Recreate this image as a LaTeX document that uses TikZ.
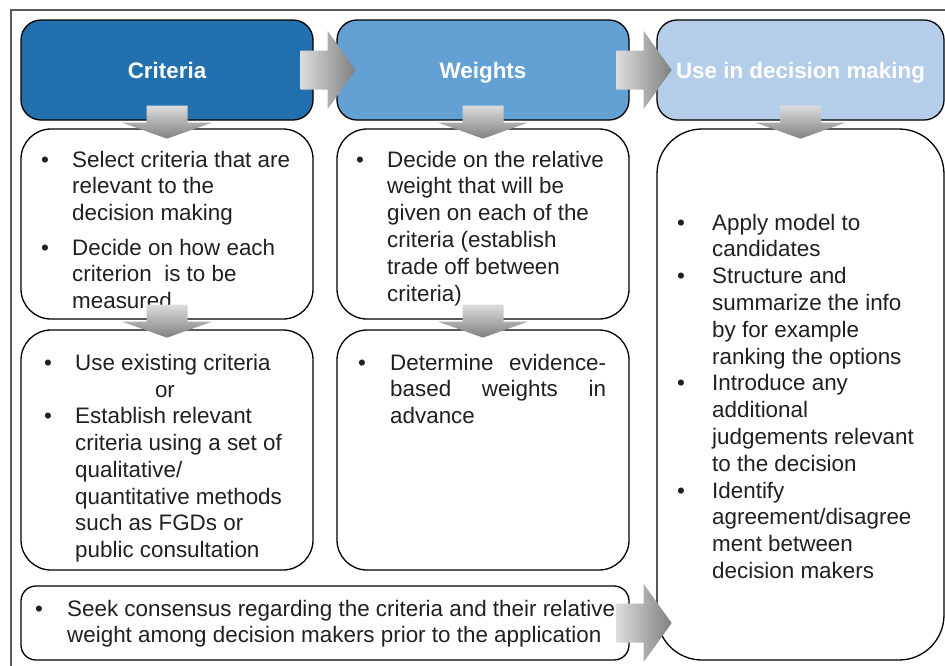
\documentclass[tikz,border=0pt]{standalone}
\usepackage{fontspec}
\setmainfont{Liberation Sans}
\definecolor{cblue}{HTML}{2370AE}
\definecolor{wblue}{HTML}{63A1D5}
\definecolor{ublue}{HTML}{B4CEE9}
\definecolor{framegray}{HTML}{5A5A5A}
\definecolor{arrlight}{HTML}{DCDCDC}
\definecolor{arrdark}{HTML}{808080}
\definecolor{txtcol}{HTML}{231F20}
\newcommand{\itm}[3]{\makebox[#1][l]{\textbullet}\parbox[t]{#2}{#3}}
\newcommand{\blockright}[1]{\begin{scope}[shift={(#1)}]
  \shade[left color=arrlight, right color=arrdark]
    (-13,-19.5) -- (14,-19.5) -- (14,-39) -- (42,0) -- (14,39) -- (14,19.5) -- (-13,19.5) -- cycle;
  \end{scope}}
\newcommand{\blockdown}[1]{\begin{scope}[shift={(#1)}]
  \shade[top color=arrlight, bottom color=arrdark]
    (-20.5,-15) -- (20.5,-15) -- (20.5,2) -- (45,2) -- (0,18) -- (-45,2) -- (-20.5,2) -- cycle;
  \end{scope}}
\begin{document}
\begin{tikzpicture}[x=1pt,y=-1pt,
  hbox/.style={draw=black, line width=1.3pt, rounded corners=20pt, inner sep=0pt,
    text=white, font=\fontsize{22.4}{26.8}\selectfont\bfseries, text height=16pt, text depth=0pt},
  cbox/.style={draw=black, line width=1.3pt, rounded corners=30pt, fill=white, inner sep=0pt},
  txt/.style={anchor=base west, inner sep=0pt, font=\fontsize{22.4}{26.8}\selectfont, text=txtcol},
]
\useasboundingbox (0,0) rectangle (945,665);
\clip (0,0) rectangle (945,665);
\fill[white] (0,0) rectangle (945,665);
\draw[framegray, line width=1.2pt] (11,10) rectangle (990,700);

% header boxes
\node[hbox, fill=cblue, minimum width=292pt, minimum height=100pt] (c1) at (167,70) {Criteria};
\node[hbox, fill=wblue, minimum width=292pt, minimum height=100pt] (w1) at (483,70) {Weights};
\node[hbox, fill=ublue, minimum width=287pt, minimum height=100pt] (u1) at (800.5,70) {Use in decision making};

% content boxes
\node[cbox, minimum width=292pt, minimum height=190pt] (c2) at (167,224) {};
\node[cbox, minimum width=292pt, minimum height=240pt] (c3) at (167,450) {};
\node[cbox, minimum width=292pt, minimum height=190pt] (w2) at (483,224) {};
\node[cbox, minimum width=292pt, minimum height=240pt] (w3) at (483,450) {};
\node[cbox, rounded corners=45pt, minimum width=287pt, minimum height=531pt] (u2) at (800.5,394.5) {};
\node[cbox, rounded corners=15pt, minimum width=608pt, minimum height=74pt] (b) at (325,623) {};

% texts
\node[txt] (tc2a) at (41,167) {\itm{31pt}{250pt}{Select criteria that are\\relevant to the\\decision making}};
\node[txt] (tc2b) at (41,255) {\itm{31pt}{250pt}{Decide on how each\\criterion\ \ is to be\\measured}};
\node[txt] (tc3a) at (44,370) {\itm{31pt}{240pt}{Use existing criteria}};
\node[txt, anchor=base] (tc3or) at (165,397) {or};
\node[txt] (tc3b) at (44,423.7) {\itm{31pt}{240pt}{Establish relevant\\criteria using a set of\\qualitative/\\quantitative methods\\such as FGDs or\\public consultation}};
\node[txt] (tw2) at (356,167) {\itm{31pt}{250pt}{Decide on the relative\\weight that will be\\given on each of the\\criteria (establish\\trade off between\\criteria)}};
\node[txt] (tw3) at (358,370) {\itm{32pt}{216pt}{\makebox[216pt][s]{Determine evidence-}\\\makebox[216pt][s]{based weights in}\\advance}};
\node[txt] (tu1) at (677,230) {\itm{35pt}{240pt}{Apply model to\\candidates}};
\node[txt] (tu2) at (677,283.6) {\itm{35pt}{240pt}{Structure and\\summarize the info\\by for example\\ranking the options}};
\node[txt] (tu3) at (677,390.8) {\itm{35pt}{240pt}{Introduce any\\additional\\judgements relevant\\to the decision}};
\node[txt] (tu4) at (677,498) {\itm{35pt}{240pt}{Identify\\agreement/disagree\\ment between\\decision makers}};
\node[txt] (tb) at (35,616) {\itm{32pt}{580pt}{Seek consensus regarding the criteria and their relative\\weight among decision makers prior to the application}};

% block arrows
\blockright{c1.east}
\blockright{w1.east}
\blockright{b.east}
\blockdown{c1.south}
\blockdown{c2.south}
\blockdown{w1.south}
\blockdown{w2.south}
\blockdown{u1.south}
\end{tikzpicture}
\end{document}
